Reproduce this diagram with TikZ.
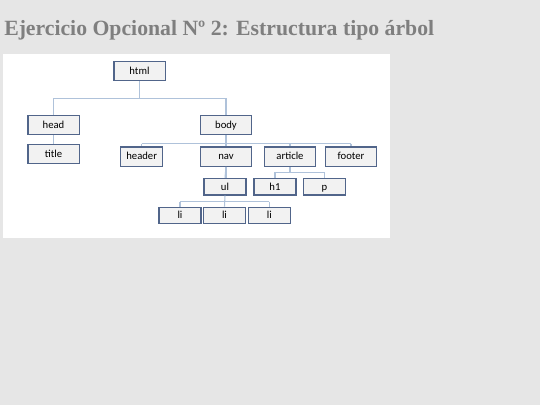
\documentclass[tikz,border=0pt]{standalone}
\usepackage{fontspec}
\setmainfont{Liberation Serif}
\newfontfamily\boxfont{Carlito}
\definecolor{bg}{HTML}{E6E6E6}
\definecolor{titlegray}{HTML}{7F7F7F}
\definecolor{boxfill}{HTML}{F2F2F2}
\definecolor{boxedge}{HTML}{51658A}
\definecolor{linkc}{HTML}{AFC2DA}
\begin{document}
\begin{tikzpicture}[x=0.75pt,y=-0.75pt,
  tbox/.style={draw=boxedge,line width=1pt,fill=boxfill,minimum height=14.5pt,inner sep=0pt,text height=5.6pt,text depth=0.6pt,font=\boxfont\fontsize{8pt}{9pt}\selectfont,text=black},
  wide/.style={tbox,minimum width=38.5pt},
  narrow/.style={tbox,minimum width=31.5pt},
  link/.style={draw=linkc,line width=0.8pt}]
\useasboundingbox (0,0) rectangle (540,405);
\fill[bg] (0,0) rectangle (540,405);
\fill[white] (3,54) rectangle (390,238);
\node[anchor=base west,text=titlegray,font=\bfseries\fontsize{16.3pt}{20pt}\selectfont,inner sep=0pt] (title0) at (4,35) {Ejercicio Opcional Nº 2: Estructura tipo árbol};
% connectors
\draw[link] (139.5,71) -- (139.5,98.3) coordinate (hj);
\draw[link] (53.5,98.3) -- (226,98.3);
\draw[link] (226,125) -- (226,143.7);
\draw[link] (141.7,143.7) -- (351,143.7);
\draw[link] (226,156.5) -- (226,186.7);
\draw[link] (180,201.7) -- (269.3,201.7);
\draw[link] (290,156.5) -- (290,172.3);
\draw[link] (276,172.3) -- (325,172.3);
% nodes
\node[wide] (html) at (139.5,71) {html};
\node[wide] (head) at (53.5,125) {head};
\node[wide] (body) at (226,125) {body};
\node[wide] (title) at (53.5,154) {title};
\node[narrow] (header) at (141.7,156.5) {header};
\node[wide] (nav) at (226,156.5) {nav};
\node[wide] (article) at (290,156.5) {article};
\node[wide] (footer) at (351,156.5) {footer};
\node[narrow,minimum height=12.5pt] (ul) at (225,186.7) {ul};
\node[narrow,minimum height=12.5pt] (h1) at (275,186.7) {h1};
\node[narrow,minimum height=12.5pt] (p) at (324.3,186.7) {p};
\node[narrow,minimum height=12pt] (li1) at (180,215.3) {li};
\node[narrow,minimum height=12pt] (li2) at (224.5,215.3) {li};
\node[narrow,minimum height=12pt] (li3) at (269.3,215.3) {li};
% connector stubs from node to node
\draw[link] (html.south) |- (head.north |- 0,98.3) -- (head.north);
\draw[link] (body.north |- 0,98.3) -- (body.north);
\draw[link] (head.south) -- (title.north);
\draw[link] (body.south) -- (nav.north);
\draw[link] (header.north |- 0,143.7) -- (header.north);
\draw[link] (article.north |- 0,143.7) -- (article.north);
\draw[link] (footer.north |- 0,143.7) -- (footer.north);
\draw[link] (nav.south) -- (ul.north);
\draw[link] (ul.south) -- (li2.north);
\draw[link] (li1.north |- 0,201.7) -- (li1.north);
\draw[link] (li3.north |- 0,201.7) -- (li3.north);
\draw[link] (article.south) -- (article.south |- 0,172.3);
\draw[link] (h1.north |- 0,172.3) -- (h1.north);
\draw[link] (p.north |- 0,172.3) -- (p.north);
\end{tikzpicture}
\end{document}
